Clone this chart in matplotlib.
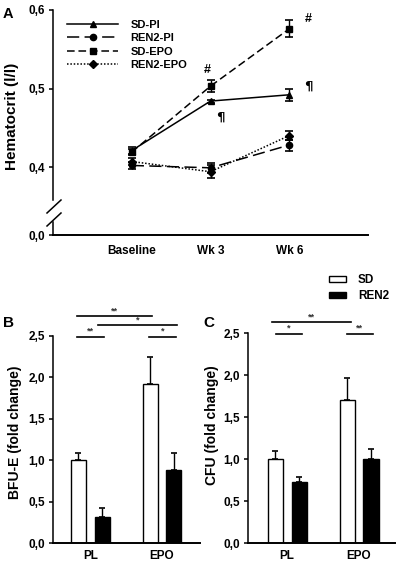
import numpy as np
import matplotlib
matplotlib.use("Agg")
import matplotlib.pyplot as plt
from matplotlib.lines import Line2D
from matplotlib.patches import Patch

plt.rcParams['font.family'] = ['Liberation Sans', 'DejaVu Sans']
plt.rcParams['font.weight'] = 'bold'
plt.rcParams['axes.linewidth'] = 1.1

# Panel A - hematocrit
timepoints = ["Baseline", "Wk 3", "Wk 6"]
sd_pi = [0.421, 0.484, 0.492]
sd_pi_err = [0.004, 0.002, 0.008]
ren2_pi = [0.402, 0.399, 0.428]
ren2_pi_err = [0.004, 0.006, 0.007]
sd_epo = [0.419, 0.503, 0.576]
sd_epo_err = [0.004, 0.008, 0.011]
ren2_epo = [0.407, 0.394, 0.440]
ren2_epo_err = [0.004, 0.008, 0.006]

# Panels B and C - colony assays
groups = ["PL", "EPO"]
bfu_sd = [1.00, 1.92]
bfu_sd_err = [0.09, 0.33]
bfu_ren2 = [0.32, 0.88]
bfu_ren2_err = [0.10, 0.21]
cfu_sd = [1.00, 1.70]
cfu_sd_err = [0.09, 0.27]
cfu_ren2 = [0.73, 1.00]
cfu_ren2_err = [0.06, 0.12]

W, H = 397, 561


def px(x0, y0, x1, y1):
    # pixel box -> figure fraction rect
    return [x0 / W, 1 - y1 / H, (x1 - x0) / W, (y1 - y0) / H]


def comma(v):
    return f"{v:.1f}".replace(".", ",")


fig = plt.figure(figsize=(W / 100, H / 100), dpi=100)

# ---------------- panel A ----------------
axA = fig.add_axes(px(53, 10, 368, 200))
axA0 = fig.add_axes(px(53, 222, 368, 235))

x = np.arange(len(timepoints))
series = [
    ("SD-PI", sd_pi, sd_pi_err, "^", "-", None, 4.5),
    ("REN2-PI", ren2_pi, ren2_pi_err, "o", "--", (8, 3.5), 4.5),
    ("SD-EPO", sd_epo, sd_epo_err, "s", "--", (5, 2.5), 4.5),
    ("REN2-EPO", ren2_epo, ren2_epo_err, "D", ":", (1, 1.2), 3.8),
]
handles = []
for name, vals, err, mk, ls, dash, ms in series:
    ln, = axA.plot(x, vals, color="black", marker=mk, ms=ms, lw=1.1,
                   ls=ls, label=name)
    if dash is not None:
        ln.set_dashes(dash)
    axA.errorbar(x, vals, yerr=err, fmt="none", ecolor="black",
                 elinewidth=1, capsize=3, capthick=1.2)
    h = Line2D([], [], color="black", marker=mk, ms=ms, lw=1.1, ls=ls)
    if dash is not None:
        h.set_dashes(dash)
    handles.append(h)

axA.set_xlim(-1, 3)
axA.set_ylim(0.358, 0.6)
axA.set_yticks([0.4, 0.5, 0.6])
axA.set_yticklabels([comma(v) for v in [0.4, 0.5, 0.6]])
axA.set_xticks([])
for s in ["top", "right", "bottom"]:
    axA.spines[s].set_visible(False)
axA.tick_params(axis="y", length=3, width=1.1, labelsize=8.5, pad=3)

axA.text(0.96, 0.524, "#", ha="center", va="center", fontsize=9)
axA.text(2.24, 0.589, "#", ha="center", va="center", fontsize=9)
axA.text(1.12, 0.463, "¶", ha="center", va="center", fontsize=9.5,
         family="DejaVu Sans")
axA.text(2.24, 0.503, "¶", ha="center", va="center", fontsize=9.5,
         family="DejaVu Sans")

axA.legend(handles, [s[0] for s in series], loc="upper left",
           bbox_to_anchor=(67 / W, 1 - 20 / H), bbox_transform=fig.transFigure,
           frameon=False, fontsize=8, handlelength=4.6, handletextpad=1.1,
           labelspacing=0.3, borderpad=0, borderaxespad=0, numpoints=1)

axA0.set_xlim(-1, 3)
axA0.set_ylim(0, 0.02)
axA0.set_yticks([0])
axA0.set_yticklabels(["0,0"])
axA0.set_xticks(x)
axA0.set_xticklabels(timepoints)
for s in ["top", "right"]:
    axA0.spines[s].set_visible(False)
axA0.spines["bottom"].set_linewidth(1.4)
axA0.tick_params(axis="y", length=3, width=1.1, labelsize=8.5, pad=3)
axA0.tick_params(axis="x", length=0, labelsize=8.5, pad=7)

# axis break marks
for y0 in (213, 226):
    fig.add_artist(Line2D([47 / W, 61 / W], [1 - y0 / H, 1 - (y0 - 13) / H],
                          color="black", lw=1.1))

fig.text(12 / W, 1 - 116 / H, "Hematocrit (l/l)", rotation=90,
         ha="center", va="center", fontsize=11)
fig.text(3 / W, 1 - 18 / H, "A", fontsize=10.5)


# ---------------- panels B and C ----------------
def bar_panel(ax, sd, sd_err, ren2, ren2_err, xlim, top):
    g = np.arange(len(groups))
    off, bw = 0.166, 0.21
    ax.errorbar(g - off, sd, yerr=[np.zeros(len(sd)), sd_err], fmt="none",
                ecolor="black", elinewidth=1, capsize=2.5, capthick=1.2,
                zorder=1)
    ax.errorbar(g + off, ren2, yerr=[np.zeros(len(ren2)), ren2_err],
                fmt="none", ecolor="black", elinewidth=1, capsize=2.5,
                capthick=1.2, zorder=1)
    ax.bar(g - off, sd, bw, color="white", edgecolor="black", lw=1, zorder=2)
    ax.bar(g + off, ren2, bw, color="black", edgecolor="black", lw=1,
           zorder=2)
    ax.set_xlim(*xlim)
    ax.set_ylim(0, top)
    ticks = np.arange(0, 2.51, 0.5)
    ax.set_yticks(ticks)
    ax.set_yticklabels([comma(v) for v in ticks])
    ax.set_xticks(g)
    ax.set_xticklabels(groups)
    for s in ["top", "right"]:
        ax.spines[s].set_visible(False)
    ax.spines["bottom"].set_linewidth(1.4)
    ax.tick_params(axis="y", length=3, width=1.1, labelsize=8.5, pad=3)
    ax.tick_params(axis="x", length=0, labelsize=8.5, pad=5)


def sig(ax, x0, x1, y, stars):
    ax.plot([x0, x1], [y, y], color="black", lw=1.2, clip_on=False)
    ax.text((x0 + x1) / 2, y + 0.01, stars, ha="center", va="bottom",
            fontsize=6.5, color="#333333")


axB = fig.add_axes(px(53, 336, 200, 543))
bar_panel(axB, bfu_sd, bfu_sd_err, bfu_ren2, bfu_ren2_err, (-0.52, 1.53), 2.5)
sig(axB, -0.19, 0.86, 2.74, "**")
sig(axB, 0.11, 1.21, 2.63, "*")
sig(axB, -0.19, 0.19, 2.49, "**")
sig(axB, 0.82, 1.19, 2.49, "*")
fig.text(15 / W, 1 - 432 / H, "BFU-E (fold change)", rotation=90,
         ha="center", va="center", fontsize=10)
fig.text(3 / W, 1 - 327 / H, "B", fontsize=11)

axC = fig.add_axes(px(248, 333, 395, 543))
bar_panel(axC, cfu_sd, cfu_sd_err, cfu_ren2, cfu_ren2_err, (-0.545, 1.5), 2.5)
sig(axC, -0.21, 0.89, 2.63, "**")
sig(axC, -0.16, 0.20, 2.49, "*")
sig(axC, 0.83, 1.19, 2.49, "**")
fig.text(212 / W, 1 - 425 / H, "CFU (fold change)", rotation=90,
         ha="center", va="center", fontsize=10)
fig.text(203 / W, 1 - 327 / H, "C", fontsize=11)

fig.legend([Patch(facecolor="white", edgecolor="black", lw=1),
            Patch(facecolor="black", edgecolor="black", lw=1)],
           ["SD", "REN2"], loc="upper left",
           bbox_to_anchor=(329 / W, 1 - 274 / H), frameon=False, fontsize=8.5,
           handlelength=1.45, handleheight=0.45, handletextpad=1.0,
           labelspacing=0.35, borderpad=0, borderaxespad=0)

fig.savefig("out.png", dpi=100)
